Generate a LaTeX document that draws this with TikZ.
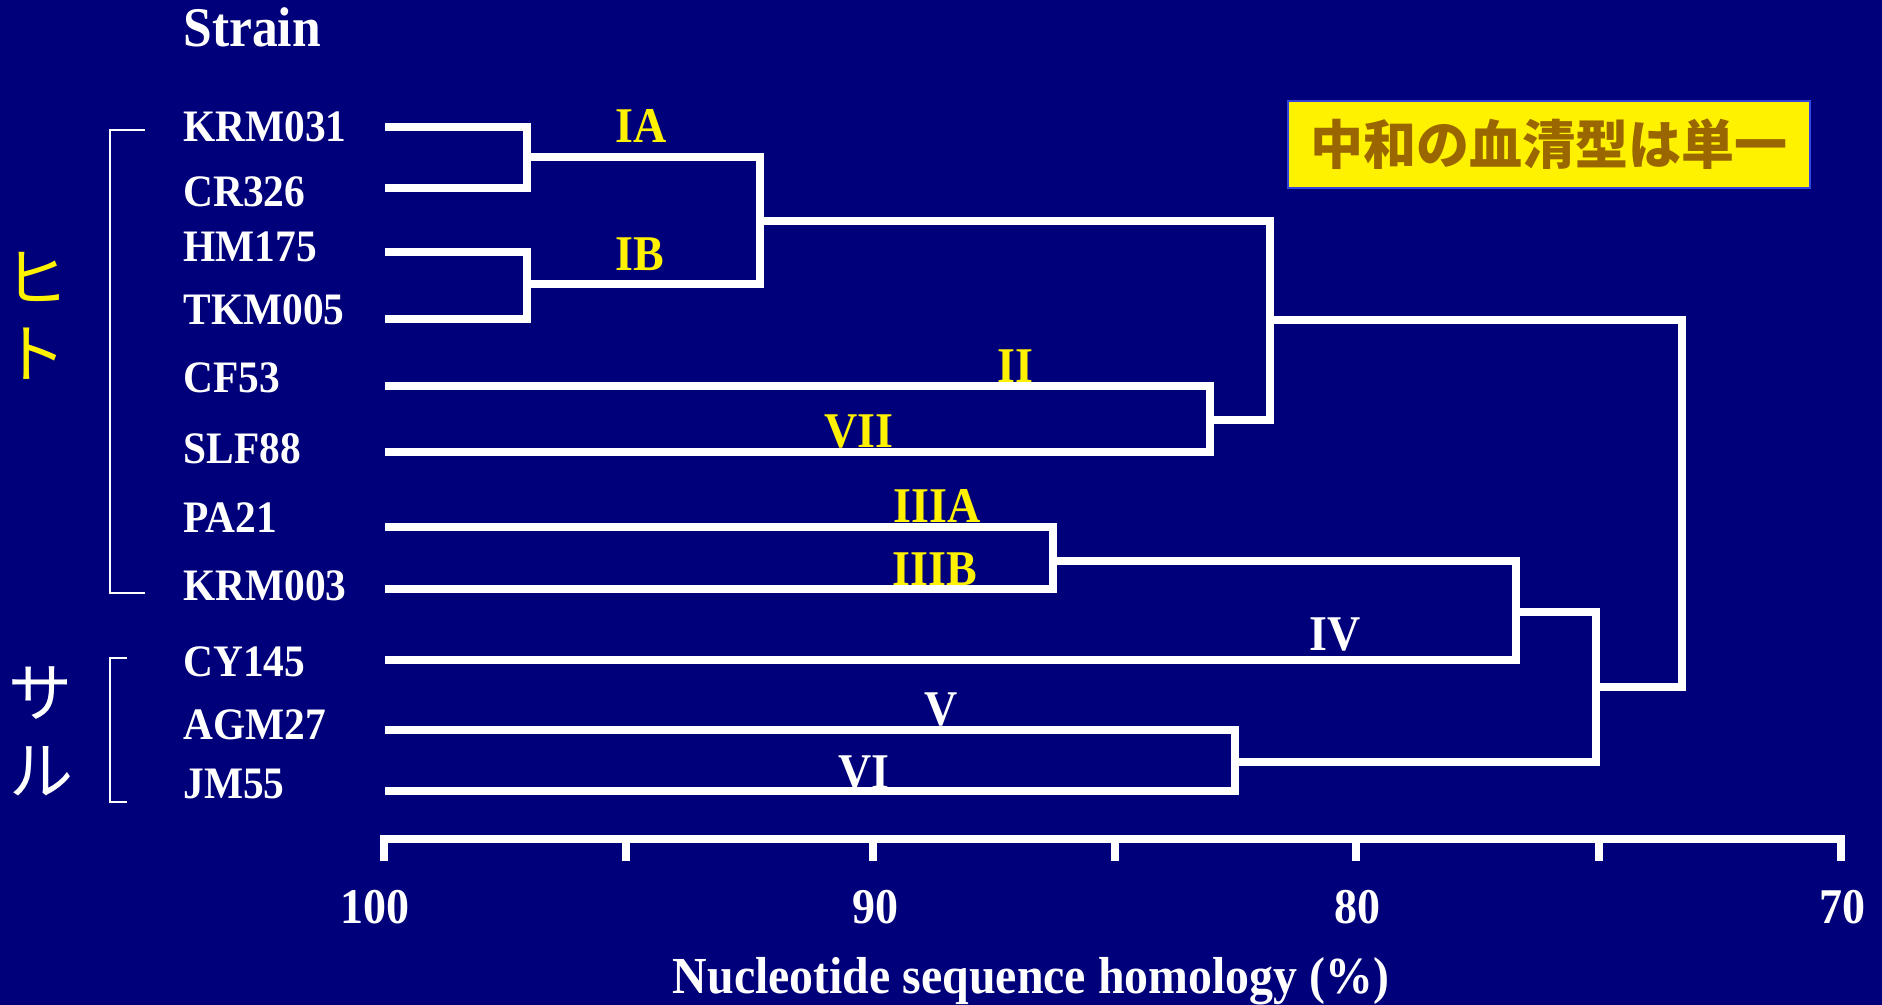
\documentclass[tikz,border=0pt]{standalone}
\usepackage{fontspec}
\setmainfont{Liberation Serif}[FakeStretch=0.92]
\newfontfamily\cjk{Noto Sans CJK JP}
\definecolor{bg}{RGB}{0,0,122}
\definecolor{boxblue}{RGB}{51,68,221}
\definecolor{browntext}{RGB}{153,102,0}
\begin{document}
\begin{tikzpicture}[x=0.5pt,y=-0.5pt,
  tree/.style={draw=white,line width=4pt,line join=miter,line cap=butt},
  brk/.style={draw=white,line width=1.25pt},
  strain/.style={text=white,font=\bfseries\fontsize{22.5}{24}\selectfont,anchor=base west,inner sep=0},
  grp/.style={text=yellow,font=\bfseries\fontsize{25}{26}\selectfont,anchor=base,inner sep=0},
  grpw/.style={grp,text=white},
  ticklab/.style={text=white,font=\bfseries\fontsize{25}{26}\selectfont,anchor=base,inner sep=0},
  kana/.style={font=\cjk\fontsize{32}{32}\selectfont,inner sep=0},
  note/.style={fill=yellow,draw=boxblue,line width=1.25pt,text=browntext,
    font=\cjk\bfseries\fontsize{26.5}{28}\selectfont,minimum width=261pt,minimum height=43.5pt,inner sep=0}
]
\fill[bg] (0,0) rectangle (1882,1005);
\useasboundingbox (0,0) rectangle (1882,1005);

% header
\node[text=white,font=\bfseries\fontsize{28}{30}\selectfont,anchor=base west,inner sep=0] (hdr) at (183,47) {Strain};

% strain labels
\node[strain] (s1) at (183,142) {KRM031};
\node[strain] (s2) at (183,207) {CR326};
\node[strain] (s3) at (183,262) {HM175};
\node[strain] (s4) at (183,325) {TKM005};
\node[strain] (s5) at (183,392) {CF53};
\node[strain] (s6) at (183,463) {SLF88};
\node[strain] (s7) at (183,532) {PA21};
\node[strain] (s8) at (183,600) {KRM003};
\node[strain] (s9) at (183,676) {CY145};
\node[strain] (s10) at (183,739) {AGM27};
\node[strain] (s11) at (183,798) {JM55};

% host groups
\node[kana,text=yellow] (h1) at (36,277) {ヒ};
\node[kana,text=yellow] (h2) at (35,354) {ト};
\node[kana,text=white] (m1) at (41,693) {サ};
\node[kana,text=white] (m2) at (42,771) {ル};
\coordinate (hb1) at (145,130); \coordinate (hb2) at (145,593);
\coordinate (mb1) at (127,658); \coordinate (mb2) at (127,802);
\draw[brk] (hb1) -- (110,130) -- (110,593) -- (hb2);
\draw[brk] (mb1) -- (110,658) -- (110,802) -- (mb2);

% leaves
\coordinate (l1) at (385,127);
\coordinate (l2) at (385,188);
\coordinate (l3) at (385,252);
\coordinate (l4) at (385,319);
\coordinate (l5) at (385,386);
\coordinate (l6) at (385,452);
\coordinate (l7) at (385,527);
\coordinate (l8) at (385,589);
\coordinate (l9) at (385,660);
\coordinate (l10) at (385,730);
\coordinate (l11) at (385,791);
% joins
\coordinate (jIA) at (527,157);
\coordinate (jIB) at (527,284);
\coordinate (jI) at (760,221);
\coordinate (jII) at (1210,420);
\coordinate (jA) at (1270,320);
\coordinate (jIII) at (1053,561);
\coordinate (jIV) at (1516,612);
\coordinate (jV) at (1235,762);
\coordinate (jB) at (1596,687);
\coordinate (root) at (1682,500);

\draw[tree] (l1) -| (jIA |- l2) -- (l2);
\draw[tree] (l3) -| (jIB |- l4) -- (l4);
\draw[tree] (jIA) -| (jI |- jIB) -- (jIB);
\draw[tree] (l5) -| (jII |- l6) -- (l6);
\draw[tree] (jI) -| (jA |- jII) -- (jII);
\draw[tree] (l7) -| (jIII |- l8) -- (l8);
\draw[tree] (jIII) -| (jIV |- l9) -- (l9);
\draw[tree] (l10) -| (jV |- l11) -- (l11);
\draw[tree] (jIV) -| (jB |- jV) -- (jV);
\draw[tree] (jA) -| (root |- jB) -- (jB);

% genotype labels
\node[grp] (gIA) at (641,143) {IA};
\node[grp] (gIB) at (640,271) {IB};
\node[grp] (gII) at (1015,382) {II};
\node[grp] (gVII) at (859,447) {VII};
\node[grp] (gIIIA) at (937,522) {IIIA};
\node[grp] (gIIIB) at (935,585) {IIIB};
\node[grpw] (gIV) at (1335,650) {IV};
\node[grpw] (gV) at (941,725) {V};
\node[grpw] (gVI) at (864,788) {VI};

% axis
\coordinate (a0) at (384,839); \coordinate (a1) at (1841,839);
\draw[tree] (384,861) -- (a0) -- (a1) -- (1841,861);
\foreach \x in {626,873,1115,1356,1599} \draw[tree] (\x,839) -- (\x,861);
\node[ticklab] (t100) at (375,923) {100};
\node[ticklab] (t90) at (875,923) {90};
\node[ticklab] (t80) at (1357,923) {80};
\node[ticklab] (t70) at (1842,923) {70};
\node[text=white,font=\bfseries\fontsize{26}{28}\selectfont,anchor=base,inner sep=0] (xlab) at (1031,993) {Nucleotide sequence homology (\%)};

% note box
\node[note] (box) at (1549,144.5) {中和の血清型は単一};
\end{tikzpicture}
\end{document}
